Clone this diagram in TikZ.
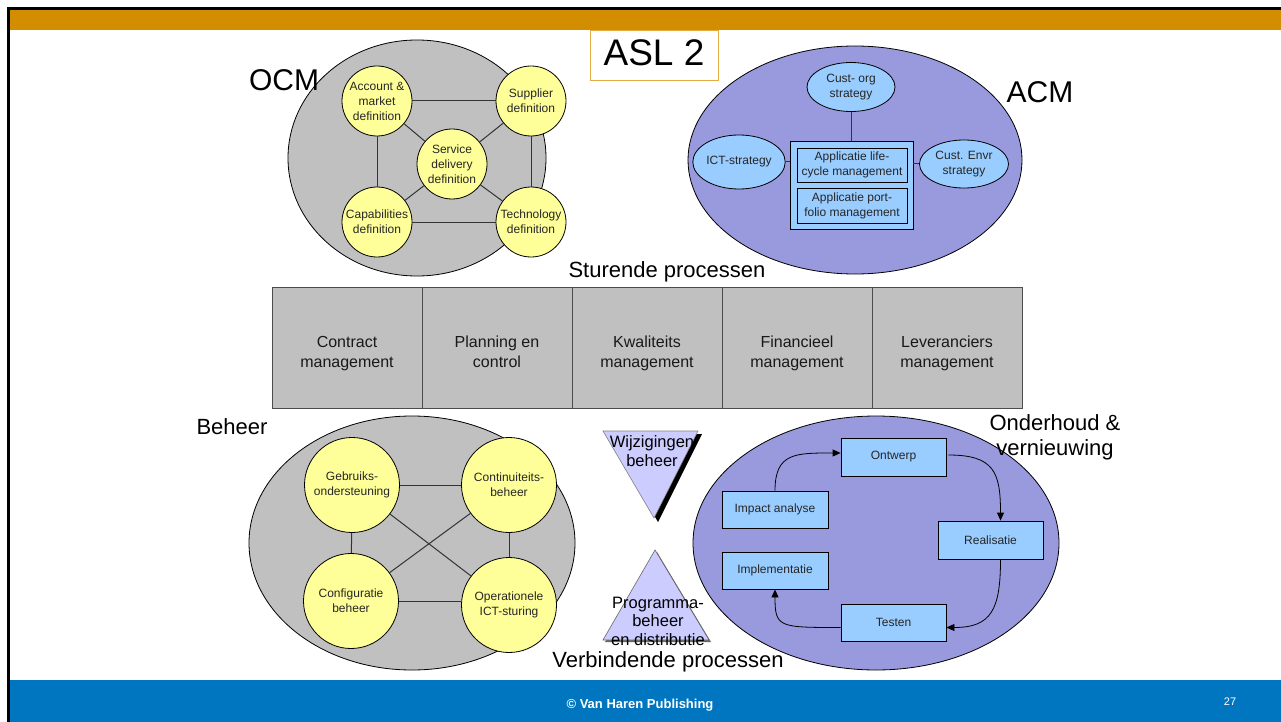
\documentclass[tikz,border=0pt]{standalone}
\usepackage{fontspec}
\setmainfont{Liberation Sans}
\usetikzlibrary{shapes.geometric,arrows.meta,calc}
\definecolor{corange}{RGB}{210,142,0}
\definecolor{cblue}{RGB}{0,118,192}
\definecolor{cgray}{RGB}{192,192,192}
\definecolor{cpurple}{RGB}{153,153,221}
\definecolor{cyellow}{RGB}{255,255,153}
\definecolor{clblue}{RGB}{153,204,255}
\definecolor{clav}{RGB}{204,204,255}
\definecolor{caslborder}{RGB}{228,170,70}
\begin{document}
\begin{tikzpicture}[x=1pt,y=-1pt,
  bigell/.style={ellipse,draw=black,line width=0.8pt,inner sep=0pt},
  ycirc/.style={circle,draw=black,line width=0.8pt,fill=cyellow,inner sep=0pt,minimum size=70pt,align=center,font=\fontsize{12}{15}\selectfont,text=black!85},
  bcirc/.style={ycirc,minimum size=95pt},
  bell/.style={ellipse,draw=black,line width=0.8pt,fill=clblue,inner sep=0pt,align=center,font=\fontsize{12}{15}\selectfont,text=black!85},
  bbox/.style={rectangle,draw=black,line width=0.8pt,fill=clblue,inner sep=0pt,align=center,font=\fontsize{12}{15}\selectfont,text=black!85},
  link/.style={draw=black!80,line width=1pt},
  cyc/.style={draw=black,line width=0.8pt,-{Triangle[length=8pt,width=7pt]}},
  cell/.style={rectangle,draw=black!70,line width=0.8pt,fill=cgray,minimum width=150pt,minimum height=121pt,inner sep=0pt},
  celltext/.style={align=center,inner sep=0pt,font=\fontsize{16}{20}\selectfont,text=black!90},
  lbl/.style={font=\fontsize{22}{25}\selectfont,align=center,inner sep=0pt},
  big/.style={font=\fontsize{30}{32}\selectfont,inner sep=0pt},
  tritext/.style={font=\fontsize{16.5}{18.5}\selectfont,align=center,inner sep=0pt}
]
\useasboundingbox (0,0) rectangle (1281,722);
\fill[white] (0,0) rectangle (1281,722);
% frame and bands
\fill[black] (7,7) rectangle (1281,10);
\fill[black] (7,7) rectangle (10,722);
\fill[corange] (10,10) rectangle (1281,30);
\fill[cblue] (10,680) rectangle (1281,722);
\node[text=white,font=\fontsize{13}{15}\selectfont\bfseries] (footer) at (640,705) {© Van Haren Publishing};
\node[text=white,font=\fontsize{11}{13}\selectfont] (pagenum) at (1230,702) {27};

% title
\node[draw=caslborder,line width=0.8pt,fill=white,minimum width=128pt,minimum height=50pt,inner sep=0pt] (aslbox) at (654,55) {};
\node[font=\fontsize{37}{40}\selectfont,inner sep=0pt] (asl) at (654,53) {ASL 2};

% OCM
\node[bigell,fill=cgray,minimum width=258pt,minimum height=236pt] (ocm) at (417,158) {};
\node[big] (ocmlbl) at (284,80) {OCM};
\node[ycirc] (acc) at (377,101) {Account \&\\market\\definition};
\node[ycirc] (sup) at (531,101) {Supplier\\definition};
\node[ycirc] (svc) at (452,164) {Service\\delivery\\definition};
\node[ycirc] (cap) at (377,222) {Capabilities\\definition};
\node[ycirc] (tech) at (531,222) {Technology\\definition};
\draw[link] (acc) -- (sup);
\draw[link] (acc) -- (cap);
\draw[link] (sup) -- (tech);
\draw[link] (cap) -- (tech);
\draw[link] (acc) -- (svc);
\draw[link] (sup) -- (svc);
\draw[link] (cap) -- (svc);
\draw[link] (tech) -- (svc);

% ACM
\node[bigell,fill=cpurple,minimum width=334pt,minimum height=228pt] (acm) at (855,160) {};
\node[big] (acmlbl) at (1040,92) {ACM};
\node[bell,minimum width=88pt,minimum height=49pt] (custorg) at (851,87) {Cust- org\\strategy};
\node[bell,minimum width=88pt,minimum height=54pt] (ict) at (739,162) {ICT-strategy};
\node[bell,minimum width=89pt,minimum height=48pt] (envr) at (964,164) {Cust. Envr\\strategy};
\node[bbox,minimum width=123pt,minimum height=88pt] (appbox) at (851.5,185) {};
\node[bbox,minimum width=110pt,minimum height=34pt] (app1) at (852,165) {Applicatie life-\\cycle management};
\node[bbox,minimum width=110pt,minimum height=35pt] (app2) at (852,205.5) {Applicatie port-\\folio management};
\draw[link] (custorg) -- (custorg |- appbox.north);
\draw[link] (ict.east) -- (ict.east -| appbox.west);
\draw[link] (envr.west) -- (envr.west -| appbox.east);

% Sturende processen
\node[lbl] (sturend) at (667,272) {Sturende processen};
\node[cell] (c1) at (347,347.5) {};
\node[cell] (c2) at (497,347.5) {};
\node[cell] (c3) at (647,347.5) {};
\node[cell] (c4) at (797,347.5) {};
\node[cell] (c5) at (947,347.5) {};
\node[celltext] (t1) at (347,353) {\strut Contract\\\strut management};
\node[celltext] (t2) at (497,353) {\strut Planning en\\\strut control};
\node[celltext] (t3) at (647,353) {\strut Kwaliteits\\\strut management};
\node[celltext] (t4) at (797,353) {\strut Financieel\\\strut management};
\node[celltext] (t5) at (947,353) {\strut Leveranciers\\\strut management};

% Beheer
\node[bigell,fill=cgray,minimum width=326pt,minimum height=254pt] (beh) at (412,543) {};
\node[lbl] (behlbl) at (232,427) {Beheer};
\node[bcirc] (gebr) at (352,485) {Gebruiks-\\ondersteuning};
\node[bcirc] (cont) at (509,485) {Continuiteits-\\beheer};
\node[bcirc] (conf) at (351,601) {Configuratie\\beheer};
\node[bcirc] (oper) at (509,605) {Operationele\\ICT-sturing};
\draw[link] (gebr) -- (cont);
\draw[link] (gebr) -- (conf);
\draw[link] (cont) -- (oper);
\draw[link] (conf.east) -- (conf.east -| oper.west);
\draw[link] (gebr) -- (oper);
\draw[link] (cont) -- (conf);

% triangles
\fill[black] (607,434) -- (702,434) -- (658,522) -- cycle;
\draw[draw=black!50,line width=0.6pt,fill=clav] (603,431) -- (698,431) -- (654,518) -- cycle;
\node[tritext] (wijz) at (652,451) {Wijzigingen\\beheer};
\fill[black!60] (657,552) -- (711,642) -- (605,642) -- cycle;
\draw[draw=black!60,line width=0.6pt,fill=clav] (655,550) -- (709,640) -- (603,640) -- cycle;
\node[tritext] (prog) at (658,621) {Programma-\\beheer\\en distributie};
\node[lbl] (verb) at (668,662) {Verbindende processen};

% Onderhoud
\node[bigell,fill=cpurple,minimum width=366pt,minimum height=254pt] (ond) at (876,543) {};
\node[lbl] (ondlbl) at (1055,437) {Onderhoud \&\\vernieuwing};
\node[bbox,minimum width=105pt,minimum height=38pt] (ontwerp) at (893.5,457) {Ontwerp};
\node[bbox,minimum width=106pt,minimum height=37pt] (impact) at (775,509.5) {Impact analyse};
\node[bbox,minimum width=105pt,minimum height=38pt] (real) at (990.5,540) {Realisatie};
\node[bbox,minimum width=106pt,minimum height=37pt] (impl) at (775,570.5) {Implementatie};
\node[bbox,minimum width=105pt,minimum height=37pt] (testen) at (893.5,622.5) {Testen};
\draw[cyc] (impact.north) .. controls ($(impact.north)+(0,-38)$) and ($(ontwerp.west)+(-45,-4)$) .. ($(ontwerp.west)+(0,-4)$);
\draw[cyc] ($(ontwerp.east)+(2,-2)$) .. controls ($(ontwerp.east)+(48,-2)$) and ($(real.north)+(10,-48)$) .. ($(real.north)+(10,0)$);
\draw[cyc] ($(real.south)+(10,0)$) .. controls ($(real.south)+(10,50)$) and ($(testen.east)+(45,5)$) .. ($(testen.east)+(0,5)$);
\draw[cyc] ($(testen.west)+(0,5)$) .. controls ($(testen.west)+(-62,5)$) and ($(impl.south)+(0,38)$) .. (impl.south);
\end{tikzpicture}
\end{document}
